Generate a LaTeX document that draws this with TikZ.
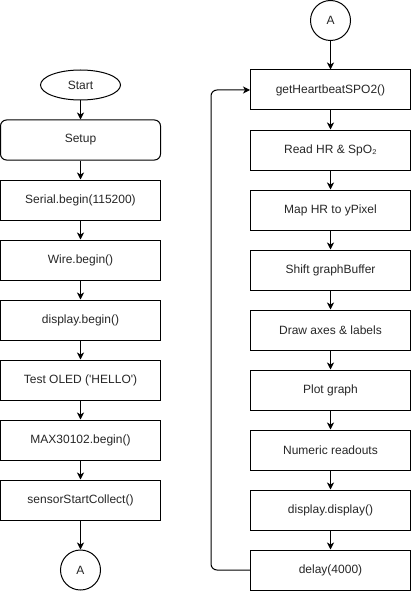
\documentclass[tikz,border=0pt]{standalone}
\usepackage{fontspec}
\setmainfont{Liberation Sans}
\usetikzlibrary{arrows.meta,shapes.geometric}
\begin{document}
\begin{tikzpicture}[x=1pt,y=-1pt,
  every node/.style={font=\fontsize{12}{14}\selectfont, text=black!85},
  proc/.style={draw, line width=1pt, minimum width=160pt, minimum height=40pt, inner sep=0pt},
  setupbox/.style={proc, rounded corners=6pt},
  term/.style={draw, line width=1pt, ellipse, minimum width=80pt, minimum height=30pt, inner sep=0pt},
  conn/.style={draw, line width=1pt, circle, minimum size=40pt, inner sep=0pt},
  flow/.style={line width=1pt, -{Stealth[length=7pt,width=7pt,inset=2pt]}}
]
\useasboundingbox (0,0) rectangle (411,591);
% left column
\node[term] (start) at (80.5,85) {Start};
\node[setupbox] (setup) at (80.5,140) {Setup};
\node[proc] (serial) at (80.5,200) {Serial.begin(115200)};
\node[proc] (wire) at (80.5,260) {Wire.begin()};
\node[proc] (dbegin) at (80.5,320) {display.begin()};
\node[proc] (oled) at (80.5,380) {Test OLED (\textquotesingle HELLO\textquotesingle)};
\node[proc] (max) at (80.5,440) {MAX30102.begin()};
\node[proc] (sensor) at (80.5,500) {sensorStartCollect()};
\node[conn] (aout) at (80.5,570) {A};
% right column
\node[conn] (ain) at (330.5,20.5) {A};
\node[proc] (hb) at (330.5,90) {getHeartbeatSPO2()};
\node[proc] (read) at (330.5,150) {Read HR \& SpO₂};
\node[proc] (map) at (330.5,210) {Map HR to yPixel};
\node[proc] (shift) at (330.5,270) {Shift graphBuffer};
\node[proc] (axes) at (330.5,330) {Draw axes \& labels};
\node[proc] (plot) at (330.5,390) {Plot graph};
\node[proc] (num) at (330.5,450) {Numeric readouts};
\node[proc] (ddisp) at (330.5,510) {display.display()};
\node[proc] (delay) at (330.5,570) {delay(4000)};
% connectors
\draw[flow] (start) -- (setup);
\draw[flow] (setup) -- (serial);
\draw[flow] (serial) -- (wire);
\draw[flow] (wire) -- (dbegin);
\draw[flow] (dbegin) -- (oled);
\draw[flow] (oled) -- (max);
\draw[flow] (max) -- (sensor);
\draw[flow] (sensor) -- (aout);
\draw[flow] (ain) -- (hb);
\draw[flow] (hb) -- (read);
\draw[flow] (read) -- (map);
\draw[flow] (map) -- (shift);
\draw[flow] (shift) -- (axes);
\draw[flow] (axes) -- (plot);
\draw[flow] (plot) -- (num);
\draw[flow] (num) -- (ddisp);
\draw[flow] (ddisp) -- (delay);
\draw[flow, rounded corners=6pt] (delay.west) -| (211,90) -- (hb.west);
\end{tikzpicture}
\end{document}
